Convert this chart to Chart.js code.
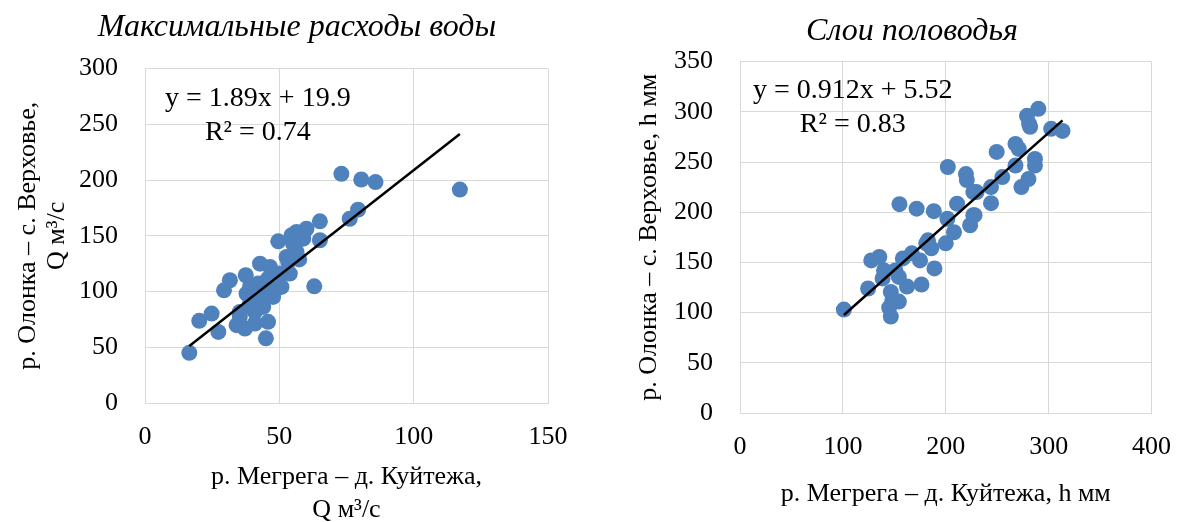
<!DOCTYPE html>
<html lang="ru">
<head>
<meta charset="utf-8">
<title>Максимальные расходы воды / Слои половодья</title>
<script src="https://cdn.jsdelivr.net/npm/chart.js@4.4.1/dist/chart.umd.min.js"></script>
<style>
    html, body { margin: 0; padding: 0; background: #fff; overflow: hidden; }
    .chart-box { position: absolute; top: 0; height: 530px; }
    #left-box { left: 0; width: 594px; }
    #right-box { left: 634px; width: 556px; }
</style>
</head>
<body>
<div id="left-box" class="chart-box"><canvas id="peakFlowChart"></canvas></div>
<div id="right-box" class="chart-box"><canvas id="floodLayerChart"></canvas></div>
<script>
// Максимальные расходы воды: x = р. Мегрега – д. Куйтежа, y = р. Олонка – с. Верховье (м³/с)
const flowX = [73.1, 80.5, 85.8, 79.3, 76.2, 65.1, 65.1, 60.1, 56.4, 54.5, 58.9, 49.6, 55.1, 56.4, 57.4,
    53.3, 53.9, 42.8, 46.5, 37.5, 31.6, 29.4, 50.8, 63.0, 42.1, 45.8, 50.2, 47.7, 42.8, 39.1, 35.3, 40.9,
    44.0, 37.8, 24.8, 20.2, 27.3, 34.1, 37.2, 45.8, 45.0, 16.5, 40.9, 35.3, 45.2, 49.0, 39.1, 52.7, 117.2];
const flowY = [205.6, 200.5, 198.2, 173.4, 165.3, 163.0, 146.0, 156.3, 153.4, 150.4, 147.4, 145.0, 143.0, 135.5, 128.8,
    126.6, 116.1, 125.0, 122.0, 114.6, 110.1, 101.1, 104.1, 104.7, 107.1, 111.6, 116.1, 95.2, 92.2, 89.2, 81.7, 81.7,
    86.2, 98.2, 80.2, 73.7, 63.8, 69.8, 66.8, 72.8, 58.0, 45.0, 71.3, 77.3, 98.2, 102.7, 104.1, 131.0, 191.5];
const flowTicksX = [0, 150, 50];   // min, max, step
const flowTicksY = [0, 300, 50];
const flowTrend = { slope: 1.89, intercept: 19.9, from: 16.5, to: 117.2 };
const flowEquation = ['y = 1.89x + 19.9', 'R² = 0.74'];

// Слои половодья: h мм
const layerX = [101, 124.5, 127.6, 135.4, 140, 138.6, 146.6, 148.2, 145, 146.6, 154.4, 162.3, 176.4, 189, 158.3,
    167, 175, 182.7, 186, 200, 208, 223.7, 202, 219.6, 220.5, 226.8, 249.5, 244, 155, 171.7, 188.4, 211, 201.6,
    226.8, 181, 290, 279, 281, 282, 302.5, 313.5, 267.8, 271, 286.7, 286.7, 267.8, 255, 280.4, 273.5, 244, 230,
    228, 151, 154.4];
const layerY = [103, 124, 152, 155.4, 142, 134, 120.6, 112, 105, 96, 111, 126, 128, 144, 154,
    159, 152, 172, 164, 169, 180, 187, 245, 238, 232, 220, 260, 209, 208, 203.5, 201, 208.5, 193.5,
    197, 169, 303, 296, 288, 285, 283, 281, 268, 263, 253, 246.5, 246.5, 235, 233, 225, 225, 220,
    197, 142, 135.5];
const layerTicksX = [0, 400, 100];
const layerTicksY = [0, 350, 50];
const layerTrend = { slope: 0.912, intercept: 5.52, from: 101, to: 313.5 };
const layerEquation = ['y = 0.912x + 5.52', 'R² = 0.83'];

const SERIF = "'Liberation Serif', 'Times New Roman', serif";
const GRID = '#d9d9d9';
const DOT = '#4f81bd';

// draws the trendline equation text, anchored in data coordinates
const equationPlugin = {
    id: 'equation',
    afterDatasetsDraw(chart, args, opts) {
        const { ctx, scales } = chart;
        const cx = scales.x.getPixelForValue(opts.at[0]);
        const cy = scales.y.getPixelForValue(opts.at[1]);
        ctx.save();
        ctx.font = `${opts.size}px ${SERIF}`;
        ctx.fillStyle = '#000';
        ctx.textAlign = 'center';
        ctx.textBaseline = 'middle';
        opts.lines.forEach((line, i) => ctx.fillText(line, cx, cy + i * opts.gap));
        ctx.restore();
    }
};

function toPoints(xs, ys) {
    return xs.map((x, i) => ({ x, y: ys[i] }));
}

function trendPoints(t) {
    return [t.from, t.to].map(x => ({ x, y: t.slope * x + t.intercept }));
}

function buildChart(canvasId, cfg) {
    const ctx = document.getElementById(canvasId).getContext('2d');
    return new Chart(ctx, {
        type: 'scatter',
        data: {
            datasets: [
                {
                    type: 'line',
                    data: trendPoints(cfg.trend),
                    borderColor: '#000',
                    borderWidth: 2.5,
                    pointRadius: 0,
                    fill: false,
                    order: 0
                },
                {
                    data: toPoints(cfg.xs, cfg.ys),
                    backgroundColor: DOT,
                    borderWidth: 0,
                    pointRadius: 8,
                    order: 1
                }
            ]
        },
        options: {
            responsive: true,
            maintainAspectRatio: false,
            animation: false,
            layout: { padding: 0 },
            scales: {
                x: {
                    type: 'linear',
                    min: cfg.ticksX[0],
                    max: cfg.ticksX[1],
                    afterFit: s => { s.height = cfg.box.xHeight; },
                    ticks: {
                        stepSize: cfg.ticksX[2],
                        padding: 19,
                        color: '#000',
                        font: { family: SERIF, size: 26 }
                    },
                    grid: { color: GRID, drawTicks: false },
                    border: { color: GRID },
                    title: {
                        display: true,
                        text: cfg.xTitle,
                        color: '#000',
                        font: { family: SERIF, size: 26, lineHeight: 1.27 },
                        padding: { top: 0, bottom: cfg.box.xTitlePad }
                    }
                },
                y: {
                    type: 'linear',
                    min: cfg.ticksY[0],
                    max: cfg.ticksY[1],
                    afterFit: s => { s.width = cfg.box.yWidth; },
                    ticks: {
                        stepSize: cfg.ticksY[2],
                        padding: 27,
                        color: '#000',
                        font: { family: SERIF, size: 26 }
                    },
                    grid: { color: GRID, drawTicks: false },
                    border: { color: GRID },
                    title: {
                        display: true,
                        text: cfg.yTitle,
                        color: '#000',
                        font: { family: SERIF, size: 26, lineHeight: cfg.box.yTitleLh },
                        padding: { top: cfg.box.yTitlePad, bottom: 0 }
                    }
                },
                // empty right-hand spacer so the plot ends where the reference ends
                spacer: {
                    type: 'linear',
                    position: 'right',
                    afterFit: s => { s.width = cfg.box.rightGap; },
                    ticks: { display: false },
                    grid: { display: false },
                    border: { display: false }
                }
            },
            plugins: {
                legend: { display: false },
                tooltip: { enabled: false },
                title: {
                    display: true,
                    text: cfg.title,
                    color: '#000',
                    font: { family: SERIF, size: 32, style: 'italic', weight: 'normal', lineHeight: 1.2 },
                    padding: cfg.box.titlePad
                },
                equation: {
                    lines: cfg.equation,
                    at: cfg.equationAt,
                    size: 28,
                    gap: 34
                }
            }
        },
        plugins: [equationPlugin]
    });
}

buildChart('peakFlowChart', {
    xs: flowX,
    ys: flowY,
    ticksX: flowTicksX,
    ticksY: flowTicksY,
    trend: flowTrend,
    equation: flowEquation,
    equationAt: [42, 273],
    title: 'Максимальные расходы воды',
    xTitle: ['р. Мегрега – д. Куйтежа,', 'Q м³/с'],
    yTitle: ['р. Олонка – с. Верховье,', 'Q м³/с'],
    box: { yWidth: 145, rightGap: 46, xHeight: 127, xTitlePad: 3.5, yTitleLh: 1.13, yTitlePad: 13,
        titlePad: { top: 8.8, bottom: 21.4 } }
});

buildChart('floodLayerChart', {
    xs: layerX,
    ys: layerY,
    ticksX: layerTicksX,
    ticksY: layerTicksY,
    trend: layerTrend,
    equation: layerEquation,
    equationAt: [109.6, 321],
    title: 'Слои половодья',
    xTitle: 'р. Мегрега – д. Куйтежа, h мм',
    yTitle: 'р. Олонка – с. Верховье, h мм',
    box: { yWidth: 106, rightGap: 27, xHeight: 117, xTitlePad: 19, yTitleLh: 1.15, yTitlePad: 0,
        titlePad: { top: 12.8, bottom: 10.4 } }
});
</script>
</body>
</html>
